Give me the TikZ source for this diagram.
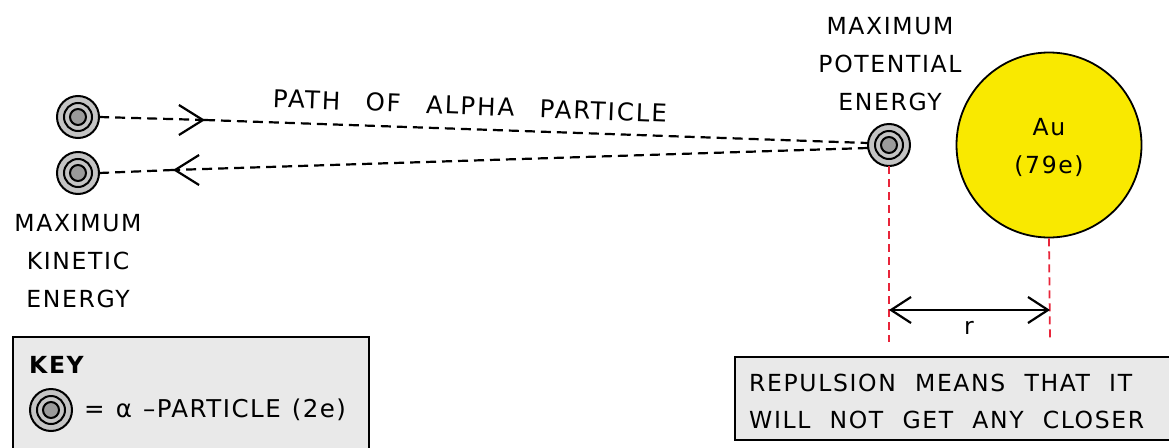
\documentclass[tikz,border=0pt]{standalone}
\usepackage{fontspec}
\setmainfont{DejaVu Sans}[LetterSpace=7, WordSpace=2.1]
\usetikzlibrary{arrows.meta,calc}
\definecolor{ringlight}{HTML}{C4C4C4}
\definecolor{ringdark}{HTML}{9A9A9A}
\definecolor{gold}{HTML}{F9E900}
\definecolor{boxgray}{HTML}{E9E9E9}
\definecolor{dashred}{HTML}{E8253A}
\newfontfamily\pathfont{DejaVu Sans}[LetterSpace=8, WordSpace=2.6]
\newfontfamily\keyfont{DejaVu Sans}[LetterSpace=6, WordSpace=1.2]
\tikzset{
  lbl/.style={font=\fontsize{23.5}{38}\selectfont, align=center, inner sep=0pt},
  pathline/.style={dashed, dash pattern=on 10pt off 6pt, line width=2.2pt},
  barb/.tip={Straight Barb[length=24pt,width=30pt,line width=2.2pt]},
  rbarb/.tip={Straight Barb[length=20pt,width=26pt,line width=2.2pt]},
  chev/.style={line width=2.2pt, -barb},
  redline/.style={dashed, dash pattern=on 8pt off 5pt, line width=1.8pt, dashred},
  keybox/.style={draw, line width=1.8pt, fill=boxgray},
}
\newcommand{\alphap}[2]{%
  \fill[ringlight, draw=black, line width=2pt] (#1) circle (21);
  \draw[line width=2pt] (#1) circle (14);
  \fill[ringdark, draw=black, line width=2pt] (#1) circle (8);
  \node[circle, minimum size=42pt, inner sep=0pt] (#2) at (#1) {};
}
\begin{document}
\begin{tikzpicture}[x=1pt,y=-1pt]
\useasboundingbox (0,0) rectangle (1169,447);
% particles
\alphap{78,117}{p1}
\alphap{78,173}{p2}
\alphap{889,145}{p3}
% paths
\coordinate (t1) at (205,120);
\coordinate (b1) at (173,170);
\draw[pathline] (p1.east) -- (t1);
\draw[pathline] (t1) -- (p3.west |- 0,143);
\draw[chev] ($(t1)+(-1,0)$) -- (t1);
\draw[pathline] (p3.west |- 0,148) -- (b1);
\draw[pathline] (b1) -- (p2.east);
\draw[chev] ($(b1)+(1,0)$) -- (b1);
\node[lbl, rotate=-2.2, font=\pathfont\fontsize{24.5}{38}\selectfont] (pathlbl) at (470,106) {PATH OF ALPHA PARTICLE};
% labels
\node[lbl] (kin) at (78,261) {MAXIMUM\\KINETIC\\ENERGY};
\node[lbl] (pot) at (890,64) {MAXIMUM\\POTENTIAL\\ENERGY};
% gold nucleus
\node[circle, draw, line width=1.8pt, fill=gold, minimum size=185pt, inner sep=0pt] (au) at (1049,145) {};
\node[lbl] (autext) at (1049,147) {Au\\(79e)};
% red lines
\coordinate (ra) at (889,342);
\coordinate (rb) at (1050,342);
\draw[redline] (p3.south) -- (ra);
\draw[redline] (au.south) -- (rb);
\coordinate (r1) at (889,310);
\coordinate (r2) at (1050,310);
\draw[line width=2.2pt, rbarb-rbarb] (r1) -- (r2);
\node[lbl] (rlbl) at (969,328) {r};
% key box
\draw[keybox] (13,337) rectangle (369,460);
\node[lbl, anchor=west, font=\fontsize{23.5}{38}\selectfont\bfseries] (keyt) at (29,365) {KEY};
\alphap{51,410}{pk}
\node[lbl, anchor=west, font=\keyfont\fontsize{24.5}{38}\selectfont] (keytxt) at (84,410) {= α –PARTICLE (2e)};
% repulsion box
\draw[keybox] (735,357) rectangle (1180,440);
\node[lbl, anchor=west, align=left, font=\fontsize{23.5}{37}\selectfont] (rep) at (749,401) {REPULSION MEANS THAT IT\\WILL NOT GET ANY CLOSER};
\end{tikzpicture}
\end{document}
